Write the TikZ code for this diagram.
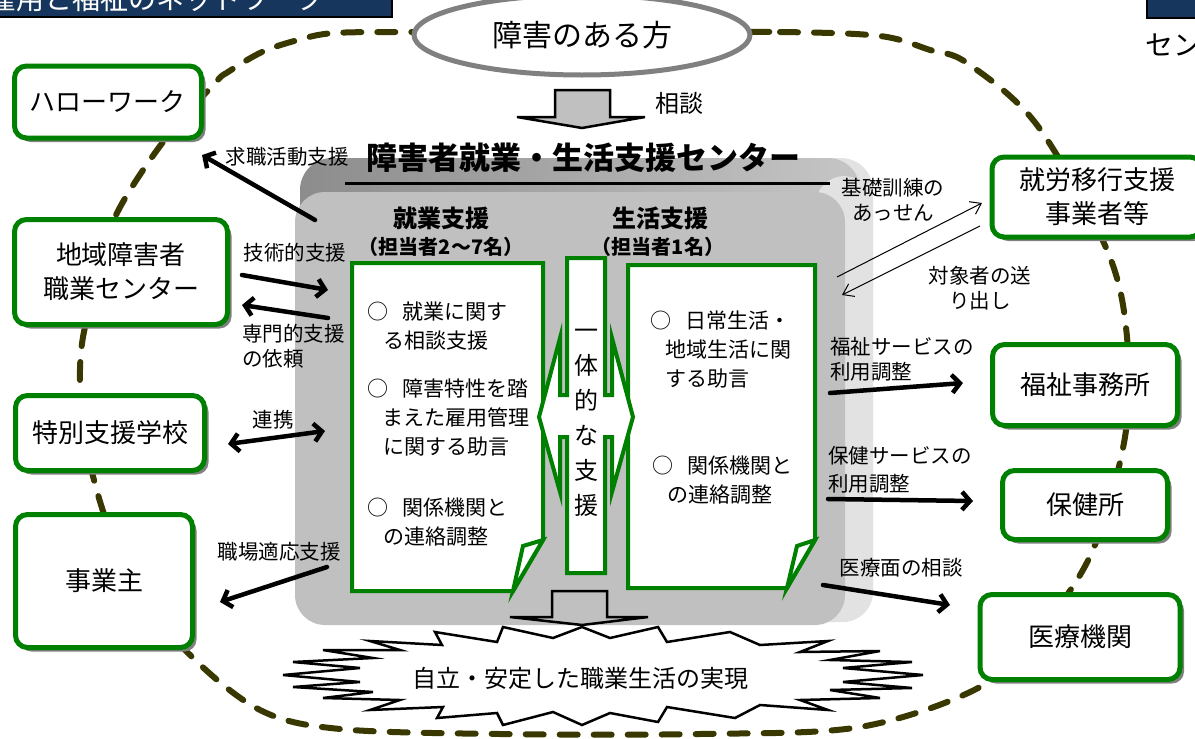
\documentclass[tikz,border=0pt]{standalone}
\usepackage{fontspec}
\setmainfont{Noto Sans CJK JP}
\usetikzlibrary{arrows.meta,shapes.geometric,shadows}

\definecolor{BoxGreen}{RGB}{0,128,0}
\definecolor{LoopOlive}{RGB}{56,56,0}
\definecolor{HeadBlue}{RGB}{23,54,93}
\definecolor{PanelGray}{RGB}{192,192,192}
\definecolor{PanelLight}{RGB}{226,226,226}
\newcommand{\sz}[2]{\fontsize{#1pt}{#2pt}\selectfont}

\tikzset{
  orgbox/.style={draw=BoxGreen, line width=5pt, fill=white, rounded corners=12pt,
    drop shadow={shadow xshift=4pt, shadow yshift=-4pt, fill=gray, opacity=1},
    font=\sz{26}{34}, align=center, inner sep=0pt},
  lbl/.style={font=\sz{20.5}{25}, inner sep=0pt, align=left},
  bigarrow/.style={line width=4.5pt, line cap=round, -{Straight Barb[length=8pt,width=18pt]}},
  thinarrow/.style={line width=1pt, -{Straight Barb[length=10pt,width=14pt]}},
  note/.style={draw=BoxGreen, line width=4pt, fill=white, line join=miter},
  notetext/.style={font=\sz{21}{29}, inner sep=0pt, align=left, anchor=north west}
}

\begin{document}
\begin{tikzpicture}[x=1pt, y=-1pt]
\useasboundingbox (0,0) rectangle (1195,739);

% cut headers
\filldraw[fill=HeadBlue, draw=black, line width=1.5pt] (-10,-10) rectangle (392,17);
\node[font=\sz{28}{30}, text=white, anchor=base west, inner sep=0pt] (headtext) at (-12,9) {雇用と福祉のネットワーク};
\filldraw[fill=HeadBlue, draw=black, line width=1.5pt] (1147,-10) rectangle (1210,18);
\node[font=\sz{28}{30}, anchor=west, inner sep=0pt] (rightcut) at (1145,45) {センター};

% network loop
\draw[LoopOlive, line width=6pt, line cap=round, dash pattern=on 18pt off 16pt]
  plot[smooth cycle, tension=0.55] coordinates {(600,32) (780,32) (880,36) (930,50) (967,63)
  (1037,125) (1107,250) (1127,337) (1125,437) (1092,552) (1040,630) (980,687) (860,727)
  (700,734) (500,734) (340,729) (260,710) (188,653) (130,580) (102,508) (85,440) (80,387)
  (83,337) (100,270) (117,213) (163,142) (215,83) (228,72) (262,52) (298,40) (335,33) (420,32)};

\node[ellipse, draw=gray, line width=5pt, fill=white, minimum width=336pt, minimum height=80pt,
  font=\sz{30}{36}, inner sep=0pt] (person) at (582,35) {障害のある方};

% consult arrow
\filldraw[fill=PanelGray, draw=black, line width=2.5pt] (555,90) -- (610,90) -- (610,117)
  -- (645,117) -- (582,128) -- (517,117) -- (555,117) -- cycle;
\node[lbl, font=\sz{24}{28}] (soudan) at (679,103) {相談};

% centre panel
\fill[PanelLight, rounded corners=32pt] (305,158) rectangle (873,622);
\shade[left color=gray!90, right color=gray!45, rounded corners=32pt] (300,158) rectangle (860,240);
\fill[PanelLight, rounded corners=30pt] (815,176) rectangle (873,622);
\fill[PanelGray, rounded corners=30pt] (295,192) rectangle (845,625);
\node[font=\bfseries\sz{31}{36}, inner sep=0pt] (centertitle) at (583,158) {障害者就業・生活支援センター};
\draw[line width=3pt] (345,183) -- (830,183);

\node[font=\bfseries\sz{24}{28}, inner sep=0pt] (jobhead) at (441,218) {就業支援};
\node[font=\bfseries\sz{20}{24}, inner sep=0pt] (jobsub) at (441,247) {（担当者2〜7名）};
\node[font=\bfseries\sz{24}{28}, inner sep=0pt] (lifehead) at (660,218) {生活支援};
\node[font=\bfseries\sz{20}{24}, inner sep=0pt] (lifesub) at (658,247) {（担当者1名）};

% job note
\filldraw[note] (352,263) -- (543,263) -- (543,540) -- (513,591) -- (352,591) -- cycle;
\filldraw[note] (543,540) -- (523,546) -- (513,591) -- cycle;
\node[notetext] (job1) at (367,302) {○\hspace{14pt}就業に関す\\\hspace*{16pt}る相談支援};
\node[notetext] (job2) at (367,379) {○\hspace{14pt}障害特性を踏\\\hspace*{15pt}まえた雇用管理\\\hspace*{16pt}に関する助言};
\node[notetext] (job3) at (367,498) {○\hspace{14pt}関係機関と\\\hspace*{16pt}の連絡調整};

% life note
\filldraw[note] (628,265) -- (815,265) -- (815,540) -- (787,588) -- (628,588) -- cycle;
\filldraw[note] (815,540) -- (797,546) -- (787,588) -- cycle;
\node[notetext] (life1) at (650,311) {○\hspace{14pt}日常生活・\\\hspace*{15pt}地域生活に関\\\hspace*{15pt}する助言};
\node[notetext] (life2) at (652,456) {○\hspace{14pt}関係機関と\\\hspace*{15pt}の連絡調整};

% united support
\filldraw[note] (567,258) -- (567,395) -- (560,395) -- (560,338) -- (539,417) -- (560,492)
  -- (560,437) -- (567,437) -- (567,573) -- (605,573) -- (605,437) -- (612,437) -- (612,492)
  -- (633,417) -- (612,338) -- (612,395) -- (605,395) -- (605,258) -- cycle;
\node[font=\sz{24}{35}, align=center, inner sep=0pt] (united) at (586,423) {一\\体\\的\\な\\支\\援};

% outcome
\filldraw[fill=white, line width=2.5pt, line join=miter] (283,675) -- (360,668) -- (293,662)
  -- (373,658) -- (323,650) -- (400,650) -- (370,641) -- (442,645) -- (435,632) -- (497,642)
  -- (503,627) -- (553,638) -- (582,627) -- (610,638) -- (658,627) -- (667,642) -- (730,632)
  -- (760,645) -- (828,641) -- (800,652) -- (880,651) -- (830,660) -- (912,662) -- (843,668)
  -- (923,675) -- (843,682) -- (912,688) -- (830,690) -- (880,698) -- (800,700) -- (828,710)
  -- (760,705) -- (735,718) -- (667,707) -- (658,722) -- (610,713) -- (582,725) -- (553,712)
  -- (503,725) -- (497,713) -- (437,718) -- (443,707) -- (370,710) -- (400,700) -- (323,698)
  -- (373,692) -- (293,687) -- (360,682) -- cycle;
\node[font=\sz{24}{28}, inner sep=0pt] (outcome) at (580,678) {自立・安定した職業生活の実現};
\filldraw[fill=PanelGray, draw=black, line width=2.5pt] (552,591) -- (607,591) -- (607,617)
  -- (648,617) -- (582,625) -- (510,617) -- (552,617) -- cycle;

% partner organisations
\node[orgbox, minimum width=187pt, minimum height=72pt] (hellowork) at (108,102) {ハローワーク};
\node[orgbox, minimum width=213pt, minimum height=105pt] (chiiki) at (121,272) {地域障害者\\職業センター};
\node[orgbox, minimum width=189pt, minimum height=75pt] (school) at (110,433) {特別支援学校};
\node[orgbox, minimum width=177pt, minimum height=133pt] (employer) at (104,581) {事業主};
\node[orgbox, minimum width=210pt, minimum height=80pt] (transition) at (1097,197) {就労移行支援\\事業者等};
\node[orgbox, minimum width=185pt, minimum height=81pt] (welfare) at (1085,385) {福祉事務所};
\node[orgbox, minimum width=165pt, minimum height=69pt] (health) at (1085,505) {保健所};
\node[orgbox, minimum width=200pt, minimum height=85pt] (medical) at (1080,637) {医療機関};

% left links
\coordinate (kyu-a) at (315,220); \coordinate (kyu-b) at (202,155);
\draw[bigarrow] (kyu-a) -- (kyu-b);
\node[lbl] (kyulbl) at (287,157) {求職活動支援};
\coordinate (gi-a) at (242,275); \coordinate (gi-b) at (328,290);
\draw[bigarrow] (gi-a) -- (gi-b);
\node[lbl] (gilbl) at (295,253) {技術的支援};
\coordinate (sen-a) at (328,318); \coordinate (sen-b) at (242,305);
\draw[bigarrow] (sen-a) -- (sen-b);
\node[lbl, anchor=north west] (senlbl) at (242,324) {専門的支援\\の依頼};
\coordinate (ren-a) at (228,444); \coordinate (ren-b) at (325,431);
\draw[bigarrow, {Straight Barb[length=8pt,width=18pt]}-{Straight Barb[length=8pt,width=18pt]}] (ren-a) -- (ren-b);
\node[lbl] (renlbl) at (273,420) {連携};
\coordinate (shoku-a) at (327,567); \coordinate (shoku-b) at (220,602);
\draw[bigarrow] (shoku-a) -- (shoku-b);
\node[lbl] (shokulbl) at (279,552) {職場適応支援};

% right links
\coordinate (kiso-a) at (837,277); \coordinate (kiso-b) at (982,203);
\draw[thinarrow] (kiso-a) -- (kiso-b);
\node[lbl, align=center] (kisolbl) at (893,200) {基礎訓練の\\あっせん};
\coordinate (tai-a) at (980,226); \coordinate (tai-b) at (842,295);
\draw[thinarrow] (tai-a) -- (tai-b);
\node[lbl, align=center] (tailbl) at (980,288) {対象者の送\\り出し};
\coordinate (fuku-a) at (830,393); \coordinate (fuku-b) at (963,383);
\draw[bigarrow] (fuku-a) -- (fuku-b);
\node[lbl, anchor=north west] (fukulbl) at (830,337) {福祉サービスの\\利用調整};
\coordinate (ho-a) at (828,499); \coordinate (ho-b) at (973,501);
\draw[bigarrow] (ho-a) -- (ho-b);
\node[lbl, anchor=north west, font=\sz{20.5}{28}] (holbl) at (828,446) {保健サービスの\\利用調整};
\coordinate (iryo-a) at (823,585); \coordinate (iryo-b) at (950,605);
\draw[bigarrow] (iryo-a) -- (iryo-b);
\node[lbl] (iryolbl) at (901,568) {医療面の相談};
\end{tikzpicture}
\end{document}
